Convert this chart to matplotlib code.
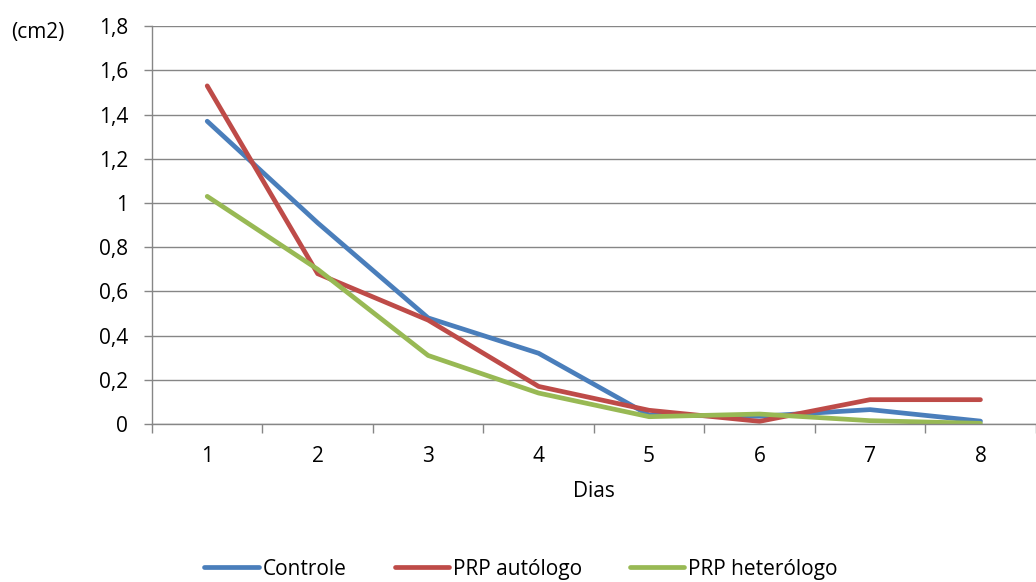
import matplotlib.pyplot as plt
from matplotlib.ticker import FuncFormatter, FixedLocator

dias = [1, 2, 3, 4, 5, 6, 7, 8]
controle = [1.37, 0.91, 0.48, 0.32, 0.04, 0.035, 0.065, 0.013]
autologo = [1.53, 0.68, 0.47, 0.17, 0.062, 0.012, 0.11, 0.11]
heterologo = [1.03, 0.70, 0.31, 0.14, 0.033, 0.045, 0.015, 0.003]
series_names = ['Controle', 'PRP autólogo', 'PRP heterólogo']
colors = ['#4A7EBB', '#BE4B48', '#98B954']

plt.rcParams['font.family'] = ['Open Sans', 'DejaVu Sans']
fs = 15

fig = plt.figure(figsize=(10.36, 5.82), dpi=100)
ax = fig.add_axes([0.1467, 0.2715, 0.853, 0.6835])

x = list(range(len(dias)))
for vals, name, c in zip([controle, autologo, heterologo], series_names, colors):
    ax.plot(x, vals, color=c, lw=3.4, label=name, solid_capstyle='round')

ax.set_xlim(-0.5, len(dias) - 0.5)
ax.set_ylim(0, 1.8)
ax.set_yticks([i * 0.2 for i in range(10)])
ax.yaxis.set_major_formatter(FuncFormatter(
    lambda v, p: '0' if abs(v) < 1e-9 else ('%g' % round(v, 1)).replace('.', ',')))
ax.set_xticks(x)
ax.set_xticklabels([str(d) for d in dias])
ax.xaxis.set_minor_locator(FixedLocator([i - 0.5 for i in range(len(dias) + 1)]))
ax.tick_params(axis='x', which='major', length=0, labelsize=fs, pad=16, colors='#000000')
ax.tick_params(axis='x', which='minor', length=6.5, color='#868686', width=1)
ax.tick_params(axis='y', length=6, color='#868686', width=1, labelsize=fs, pad=11)

ax.grid(axis='y', color='#868686', lw=1)
ax.set_axisbelow(True)
for s in ['top', 'right']:
    ax.spines[s].set_visible(False)
for s in ['left', 'bottom']:
    ax.spines[s].set_color('#868686')
    ax.spines[s].set_linewidth(1)

ax.set_xlabel('Dias', fontsize=fs, labelpad=10)
fig.text(0.011, 0.945, '(cm2)', fontsize=fs, ha='left', va='center')

fig.legend(loc='center', bbox_to_anchor=(0.503, 0.022), ncol=3, frameon=False,
           fontsize=fs, handlelength=2.6, handletextpad=0.2, columnspacing=2.3,
           borderpad=0)

fig.savefig('out.png', dpi=100)
